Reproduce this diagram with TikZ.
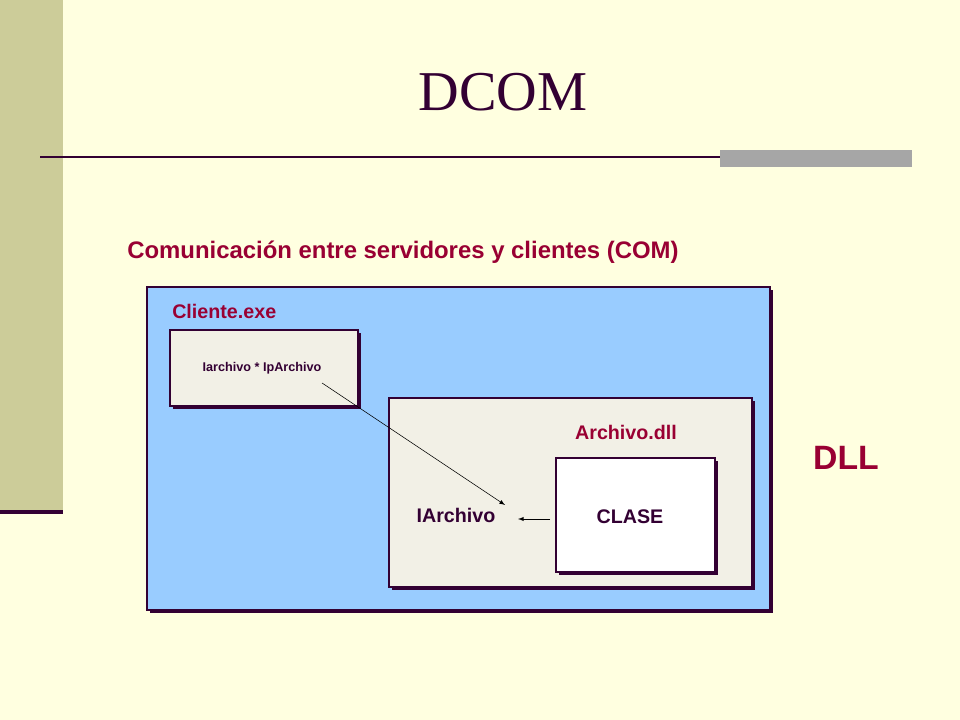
\documentclass[tikz,border=0pt]{standalone}
\usepackage{fontspec}
\setmainfont{Liberation Serif}
\setsansfont{Liberation Sans}
\usetikzlibrary{positioning, calc}
\definecolor{fondo}{HTML}{FFFFE0}
\definecolor{barra}{HTML}{CCCC99}
\definecolor{oscuro}{HTML}{330033}
\definecolor{granate}{HTML}{990033}
\definecolor{azul}{HTML}{99CCFF}
\definecolor{crema}{HTML}{F2F0E6}
\tikzset{
  caja/.style={draw=oscuro, line width=0.8pt},
  sombra/.style={fill=oscuro},
  rotulo/.style={font=\sffamily\bfseries, text=granate, inner sep=0pt}
}
\begin{document}
\begin{tikzpicture}[x=0.025cm, y=-0.025cm]

  \useasboundingbox (0,0) rectangle (960,720);
  \fill[fondo] (0,0) rectangle (960,720);
  \fill[barra] (0,0) rectangle (63,510);
  \draw[oscuro, line width=2.5pt] (0,512) -- (63,512);

  \node[font=\fontsize{40}{48}\selectfont, text=oscuro] (titulo) at (503,92) {DCOM};
  \draw[oscuro, line width=1.2pt] (40,157) -- (912,157);
  \fill[black!35] (720,150) rectangle (912,167);

  \node[rotulo, anchor=west, font=\sffamily\bfseries\fontsize{17}{20}\selectfont] (sub) at (127,252)
    {Comunicación entre servidores y clientes (COM)};

  % cliente
  \fill[sombra] (150,290) rectangle (773,613);
  \draw[caja, fill=azul] (147,287) rectangle (770,610);
  \node[rotulo, anchor=west, font=\sffamily\bfseries\fontsize{14}{16}\selectfont] (cliente) at (172,311) {Cliente.exe};

  \fill[sombra] (173,333) rectangle (361,409);
  \draw[caja, fill=crema] (170,330) rectangle (358,406);
  \node[font=\sffamily\bfseries\fontsize{9}{11}\selectfont, text=oscuro] (ptr) at (262,368) {Iarchivo * IpArchivo};
  \coordinate (ini) at (322,383);

  % dll
  \fill[sombra] (392,401) rectangle (755,590);
  \draw[caja, fill=crema] (389,398) rectangle (752,587);
  \node[rotulo, font=\sffamily\bfseries\fontsize{14}{16}\selectfont] (dll) at (626,432) {Archivo.dll};

  \fill[sombra] (559,461) rectangle (718,575);
  \draw[caja, fill=white] (556,458) rectangle (715,572);
  \node[font=\sffamily\bfseries\fontsize{14}{16}\selectfont, text=oscuro] (clase) at (630,517) {CLASE};
  \node[font=\sffamily\bfseries\fontsize{14}{16}\selectfont, text=oscuro] (iarch) at (456,515) {IArchivo};
  \coordinate (fin) at (505,505);
  \coordinate (sal) at (550,519);
  \coordinate (lleg) at (518,519);

  \draw[-latex, black] (sal) -- (lleg);
  \draw[-latex, black] (ini) -- (fin);

  \node[rotulo, font=\sffamily\bfseries\fontsize{24}{28}\selectfont] (dllgrande) at (846,458) {DLL};

\end{tikzpicture}
\end{document}
